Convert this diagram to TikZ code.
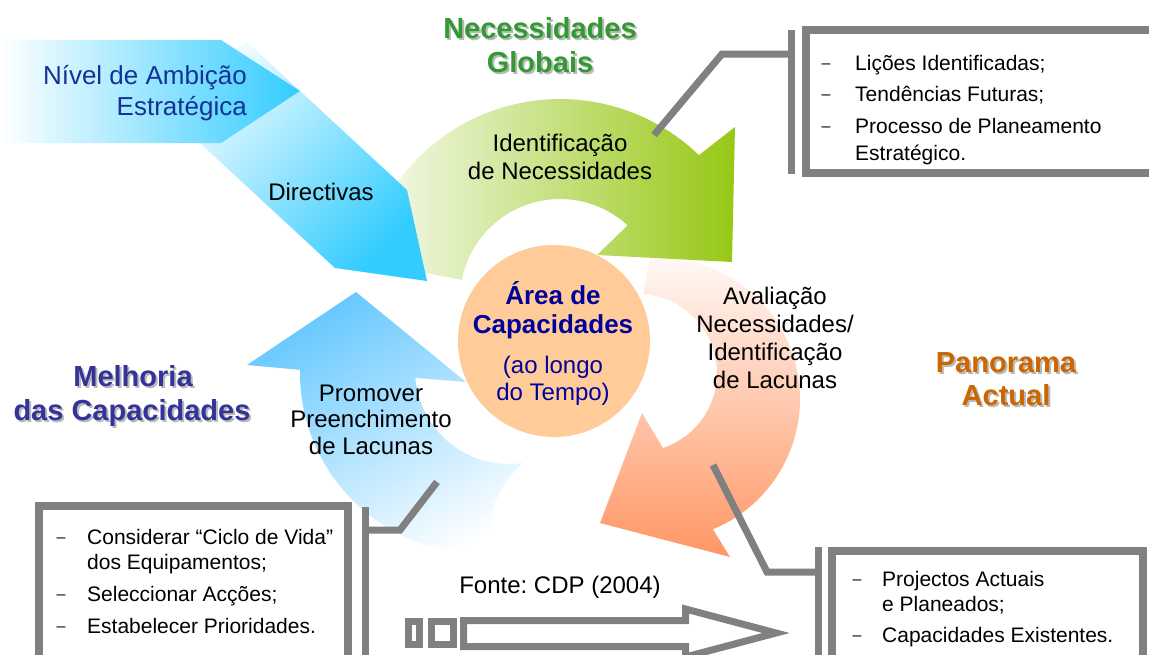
\documentclass[tikz,border=0pt]{standalone}
\usepackage{fontspec}
\setmainfont{Liberation Sans}
\frenchspacing
\definecolor{gline}{RGB}{128,128,128}
\definecolor{cyanA}{RGB}{51,204,255}
\definecolor{cyanM}{RGB}{185,230,252}
\definecolor{blueB}{RGB}{102,200,255}
\definecolor{greenA}{RGB}{150,200,20}
\definecolor{greenL}{RGB}{248,251,244}
\definecolor{redA}{RGB}{255,150,100}
\definecolor{redL}{RGB}{255,248,245}
\definecolor{peach}{RGB}{255,204,153}
\definecolor{navy}{RGB}{0,0,153}
\definecolor{ambblue}{RGB}{20,50,150}
\definecolor{hgreen}{RGB}{51,153,51}
\definecolor{hpurple}{RGB}{51,51,153}
\definecolor{horange}{RGB}{204,102,0}
\definecolor{shadowg}{RGB}{185,185,185}
\newcommand{\hdline}[5]{%
  \node[hd, text=shadowg] (#1s) at (#2+2,#3+2) {#5};
  \node[hd, text=#4] (#1) at (#2,#3) {#5};}
\begin{document}
\begin{tikzpicture}[x=1pt,y=-1pt,
  hd/.style={anchor=base, inner sep=0pt, font=\fontsize{29}{34}\selectfont\bfseries},
  lbl/.style={anchor=base, inner sep=0pt, font=\fontsize{24}{28}\selectfont},
  ctr/.style={anchor=base, inner sep=0pt, font=\fontsize{26}{30}\selectfont\bfseries, text=navy},
  itm/.style={anchor=base west, inner sep=0pt, font=\fontsize{21}{26}\selectfont},
  dsh/.style={anchor=base, inner sep=0pt, font=\fontsize{16}{20}\selectfont},
  boxline/.style={draw=gline, line width=8pt},
  barline/.style={draw=gline, line width=7pt},
  conn/.style={draw=gline, line width=7pt, line join=miter}]
\useasboundingbox (0,0) rectangle (1149,654);
\fill[white] (0,0) rectangle (1149,654);

% red arrow (Avaliacao)
\shade[top color=redL, bottom color=redA]
  plot[domain=-93.7:67.5, samples=60] ({659+141*cos(\x)},{399+141*sin(\x)})
  -- (730,557) -- (600,523) -- (642,413)
  -- plot[domain=71.6:-86.3, samples=60] ({638+79*cos(\x)},{373+79*sin(\x)})
  -- cycle;

% green arrow (Identificacao)
\shade[left color=greenL, right color=greenA]
  plot[domain=191:314, samples=60] ({560+200*cos(\x)},{299+200*sin(\x)})
  -- (735,127) -- (732,262) -- (597,255) -- (628,225)
  -- plot[domain=313:191, samples=60] ({560+100*cos(\x)},{299+100*sin(\x)})
  -- cycle;

% blue arrow (Promover)
\shade[top color=blueB, bottom color=white, shading angle=30]
  plot[domain=181:64, samples=60] ({480+180*cos(\x)},{373+180*sin(\x)})
  -- (495,527) .. controls (484,513) and (505,478) .. (523,463)
  -- plot[domain=81.4:175.2, samples=60] ({509+94*cos(\x)},{370+94*sin(\x)})
  -- (466,382) -- (356,292) -- (247,365) -- cycle;

% Directivas band
\shade[top color=cyanA, middle color=cyanM, bottom color=white, shading angle=-133]
  (247,42) -- (300,91) -- (407,190) -- (427,281) -- (335,268) -- (147,94) -- cycle;
% Nivel de Ambicao pentagon
\shade[left color=white, right color=cyanA]
  (0,40) -- (221,40) -- (300,91) -- (221,143) -- (0,143) -- cycle;

% centre circle
\node[circle, fill=peach, minimum size=192pt, inner sep=0pt] (area) at (554,341) {};

% texts on shapes
\node[anchor=base east, inner sep=0pt, font=\fontsize{26}{30}\selectfont, text=ambblue] (amb1) at (247,84) {Nível de Ambição};
\node[anchor=base east, inner sep=0pt, font=\fontsize{26}{30}\selectfont, text=ambblue] (amb2) at (247,115) {Estratégica};
\node[lbl] (dir) at (321,200) {Directivas};
\node[lbl] (idn1) at (560,151) {Identificação};
\node[lbl] (idn2) at (560,179) {de Necessidades};
\node[ctr] (ar1) at (553,304) {Área de};
\node[ctr] (ar2) at (553,333) {Capacidades};
\node[lbl, text=navy] (ar3) at (553,373) {(ao longo};
\node[lbl, text=navy] (ar4) at (553,400) {do Tempo)};
\node[lbl] (av1) at (775,304) {Avaliação};
\node[lbl] (av2) at (775,332) {Necessidades/};
\node[lbl] (av3) at (775,360) {Identificação};
\node[lbl] (av4) at (775,388) {de Lacunas};
\node[lbl] (pr1) at (371,401) {Promover};
\node[lbl] (pr2) at (371,427) {Preenchimento};
\node[lbl] (pr3) at (371,454) {de Lacunas};

% headings
\hdline{ng1}{540}{38.5}{hgreen}{Necessidades}
\hdline{ng2}{540}{72.5}{hgreen}{Globais}
\hdline{me1}{133}{386}{hpurple}{Melhoria}
\hdline{me2}{132}{420}{hpurple}{das Capacidades}
\hdline{pa1}{1006}{372}{horange}{Panorama}
\hdline{pa2}{1006}{405}{horange}{Actual}

% top-right box
\draw[boxline] (806,30) rectangle (1175,173);
\draw[barline] (791,30) -- (791,174);
\coordinate (t0) at (654,135);
\coordinate (t1) at (722,54);
\coordinate (t2) at (791,54);
\draw[conn] (t0) -- (t1) -- (t2);
\node[dsh] (td1) at (826,68) {–};
\node[itm] (tt1) at (855,70) {Lições Identificadas;};
\node[dsh] (td2) at (826,99) {–};
\node[itm] (tt2) at (855,101) {Tendências Futuras;};
\node[dsh] (td3) at (826,131) {–};
\node[itm] (tt3) at (855,133) {Processo de Planeamento};
\node[itm] (tt4) at (855,160) {Estratégico.};

% bottom-left box
\draw[boxline] (39,506) rectangle (348,680);
\draw[barline] (365,507) -- (365,680);
\coordinate (l0) at (437,482);
\coordinate (l1) at (400,530);
\coordinate (l2) at (365,530);
\draw[conn] (l0) -- (l1) -- (l2);
\node[dsh] (ld1) at (61,542) {–};
\node[itm] (lt1) at (87,544) {Considerar “Ciclo de Vida”};
\node[itm] (lt2) at (87,569) {dos Equipamentos;};
\node[dsh] (ld2) at (61,599) {–};
\node[itm] (lt3) at (87,601) {Seleccionar Acções;};
\node[dsh] (ld3) at (61,631) {–};
\node[itm] (lt4) at (87,633) {Estabelecer Prioridades.};

% bottom-right box
\draw[boxline] (832,551) rectangle (1143,680);
\draw[barline] (818,547) -- (818,680);
\coordinate (r0) at (713,465);
\coordinate (r1) at (767,572);
\coordinate (r2) at (818,572);
\draw[conn] (r0) -- (r1) -- (r2);
\node[dsh] (rd1) at (857,584) {–};
\node[itm] (rt1) at (882,586) {Projectos Actuais};
\node[itm] (rt2) at (882,611) {e Planeados;};
\node[dsh] (rd2) at (857,640) {–};
\node[itm] (rt3) at (882,642) {Capacidades Existentes.};

% source and block arrow
\node[lbl] (fonte) at (560,593) {Fonte: CDP (2004)};
\draw[draw=gline, line width=7pt] (408.5,621.5) rectangle (419.5,644.5);
\draw[draw=gline, line width=7pt] (431.5,621.5) rectangle (453.5,644.5);
\draw[draw=gline, line width=7pt, line join=miter]
  (463.5,620.5) -- (685.5,620.5) -- (685.5,609) -- (776,633) -- (685.5,657) -- (685.5,646.5) -- (463.5,646.5) -- cycle;
\end{tikzpicture}
\end{document}
